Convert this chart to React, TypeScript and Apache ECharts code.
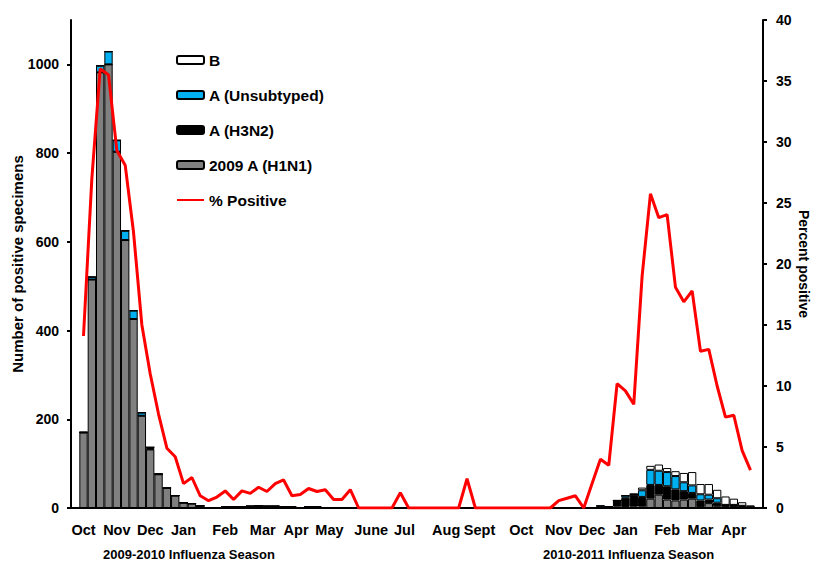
import React, { useEffect, useRef } from 'react';
import * as echarts from 'echarts';

// Weekly categories: index 0 and the last are empty padding weeks
const weekIds: string[] = Array.from({ length: 83 }, (_, i) => `W${i}`);

// 2009 A (H1N1)
const h1n1 = [
  0, 170, 515, 982, 1000, 803, 604, 426, 208, 132,
  76, 45, 28, 12, 10, 5, 1, 1, 3, 3,
  3, 4, 5, 4, 4, 3, 3, 1, 3, 3,
  1, 0, 0, 0, 0, 0, 0, 0, 0, 0,
  0, 0, 0, 0, 0, 0, 0, 0, 0, 0,
  0, 0, 0, 0, 0, 0, 0, 0, 0, 0,
  0, 0, 0, 0, 0, 3, 2, 3, 3, 21,
  30, 19, 17, 19, 21, 2, 11, 4, 2, 2,
  1, 1, 0,
];

// A (H3N2)
const h3n2 = [
  0, 0, 0, 0, 0, 0, 0, 0, 0, 1,
  0, 0, 0, 0, 0, 0, 0, 0, 0, 0,
  0, 0, 0, 0, 0, 0, 0, 0, 0, 0,
  0, 0, 0, 0, 0, 0, 0, 0, 0, 0,
  0, 0, 0, 0, 0, 0, 0, 0, 0, 0,
  0, 0, 0, 0, 0, 0, 0, 0, 0, 0,
  0, 0, 1, 1, 3, 14, 21, 27, 22, 31,
  22, 30, 25, 19, 13, 15, 8, 8, 5, 5,
  4, 1, 0,
];

// A (Unsubtyped)
const unsubtyped = [
  0, 1, 6, 15, 29, 26, 21, 19, 7, 4,
  1, 0, 0, 0, 0, 0, 0, 0, 0, 0,
  0, 0, 0, 0, 0, 0, 0, 0, 0, 0,
  0, 0, 0, 0, 0, 0, 0, 0, 0, 0,
  0, 0, 0, 0, 0, 0, 0, 0, 0, 0,
  0, 0, 0, 0, 0, 0, 0, 0, 0, 0,
  0, 0, 0, 4, 0, 0, 5, 1, 15, 34,
  32, 32, 30, 20, 17, 14, 11, 10, 0, 0,
  0, 0, 0,
];

// B
const fluB = [
  0, 0, 0, 0, 0, 0, 0, 0, 0, 0,
  0, 0, 0, 0, 0, 0, 0, 0, 0, 0,
  0, 0, 0, 0, 0, 0, 0, 0, 0, 0,
  0, 0, 0, 0, 0, 0, 0, 0, 0, 0,
  0, 0, 0, 0, 0, 0, 0, 0, 0, 0,
  0, 0, 0, 0, 0, 0, 0, 0, 0, 0,
  0, 0, 0, 0, 0, 0, 0, 1, 6, 9,
  14, 9, 11, 21, 30, 23, 24, 19, 19, 14,
  8, 4, 0,
];

// % Positive
const pctPositive: (number | null)[] = [
  null, 14.1, 27.0, 36.0, 35.5, 29.3, 28.1, 22.6, 15.0, 11.0,
  7.7, 4.9, 4.2, 2.0, 2.5, 1.0, 0.6, 0.9, 1.4, 0.7,
  1.4, 1.2, 1.7, 1.35, 2.0, 2.3, 1.0, 1.1, 1.6, 1.35,
  1.5, 0.7, 0.7, 1.5, 0, 0, 0, 0, 0, 1.25,
  0, 0, 0, 0, 0, 0, 0, 2.4, 0, 0,
  0, 0, 0, 0, 0, 0, 0, 0, 0.6, 0.8,
  1.0, 0, 2.0, 4.0, 3.5, 10.2, 9.6, 8.5, 19.0, 25.75,
  23.8, 24.05, 18.1, 16.9, 17.8, 12.85, 13.0, 10.0, 7.45, 7.6,
  4.7, 3.1, null,
];

// Month tick labels and the half-week slot where each is centred
const monthNames = ['Oct', 'Nov', 'Dec', 'Jan', 'Feb', 'Mar', 'Apr', 'May', 'June', 'Jul', 'Aug', 'Sept',
  'Oct', 'Nov', 'Dec', 'Jan', 'Feb', 'Mar', 'Apr'];
const monthSlots = [3, 11, 19, 27, 37, 46, 54, 62, 72, 80, 90, 98, 108, 117, 125, 133, 143, 151, 159];

const leftTicks = [0, 200, 400, 600, 800, 1000];
const seasonLabels = ['2009-2010 Influenza Season', '2010-2011 Influenza Season'];

const FONT = 'Liberation Sans, Arial, sans-serif';

export default function App() {
  const ref = useRef<HTMLDivElement>(null);
  useEffect(() => {
    document.body.style.margin = '0';
    if (!ref.current) return;
    const chart = echarts.init(ref.current, null, { renderer: 'svg' });
    const slotLabels: string[] = Array.from({ length: weekIds.length * 2 + 1 }, () => '');
    monthSlots.forEach((s, i) => { slotLabels[s] = monthNames[i]; });

    const barCommon = {
      type: 'bar' as const,
      stack: 'flu',
      barCategoryGap: '0%',
      xAxisIndex: 0,
      yAxisIndex: 0,
    };
    const border = { borderColor: '#000', borderWidth: 1 };

    chart.setOption({
      animation: false,
      textStyle: { fontFamily: FONT },
      grid: { left: 71, right: 52, top: 20, bottom: 54, containLabel: false, outerBoundsMode: 'none' },
      legend: {
        orient: 'vertical',
        left: 176,
        top: 52,
        padding: 0,
        itemWidth: 27,
        itemHeight: 8,
        itemGap: 19,
        textStyle: { fontSize: 15.5, fontWeight: 'bold', color: '#000', fontFamily: FONT, lineHeight: 16 },
        data: [
          'B',
          'A (Unsubtyped)',
          'A (H3N2)',
          '2009 A (H1N1)',
          { name: '% Positive', itemStyle: { opacity: 0 } },
        ],
      },
      xAxis: [
        {
          type: 'category',
          data: weekIds,
          boundaryGap: true,
          axisLine: { lineStyle: { color: '#000', width: 2 } },
          axisTick: { show: false },
          axisLabel: { show: false },
        },
        {
          type: 'category',
          data: slotLabels,
          boundaryGap: false,
          position: 'bottom',
          axisLine: { show: false },
          axisTick: { show: false },
          axisLabel: {
            interval: 0,
            margin: 14,
            fontSize: 14.5,
            fontWeight: 'bold',
            color: '#000',
            fontFamily: FONT,
          },
        },
      ],
      yAxis: [
        {
          type: 'value',
          min: 0,
          max: 1100,
          interval: 200,
          name: 'Number of positive specimens',
          nameLocation: 'middle',
          nameGap: 46,
          nameMoveOverlap: false,
          nameTextStyle: { fontSize: 15, fontWeight: 'bold', color: '#000', fontFamily: FONT },
          axisLine: { show: true, lineStyle: { color: '#000', width: 2 } },
          axisTick: { show: true, length: 4, lineStyle: { color: '#000', width: 2 }, customValues: leftTicks },
          axisLabel: {
            customValues: leftTicks,
            formatter: (v: number) => String(v),
            margin: 12,
            fontSize: 14,
            fontWeight: 'bold',
            color: '#000',
            fontFamily: FONT,
          },
          splitLine: { show: false },
        },
        {
          type: 'value',
          min: 0,
          max: 40,
          interval: 5,
          position: 'right',
          name: 'Percent positive',
          nameLocation: 'middle',
          nameRotate: -90,
          nameGap: 34,
          nameMoveOverlap: false,
          nameTextStyle: { fontSize: 14, fontWeight: 'bold', color: '#000', fontFamily: FONT },
          axisLine: { show: true, lineStyle: { color: '#000', width: 2 } },
          axisTick: { show: true, length: 4, lineStyle: { color: '#000', width: 2 } },
          axisLabel: { margin: 13, fontSize: 14, fontWeight: 'bold', color: '#000', fontFamily: FONT },
          splitLine: { show: false },
        },
      ],
      graphic: [
        {
          type: 'text',
          left: 103,
          top: 548,
          style: { text: seasonLabels[0], font: `bold 13px ${FONT}`, fill: '#000' },
        },
        {
          type: 'text',
          left: 543,
          top: 548,
          style: { text: seasonLabels[1], font: `bold 13px ${FONT}`, fill: '#000' },
        },
      ],
      series: [
        { ...barCommon, name: '2009 A (H1N1)', data: h1n1, itemStyle: { color: '#808080', ...border } },
        { ...barCommon, name: 'A (H3N2)', data: h3n2, itemStyle: { color: '#000000', ...border } },
        { ...barCommon, name: 'A (Unsubtyped)', data: unsubtyped, itemStyle: { color: '#00B0F0', ...border } },
        { ...barCommon, name: 'B', data: fluB, itemStyle: { color: '#FFFFFF', ...border } },
        {
          type: 'line',
          name: '% Positive',
          xAxisIndex: 0,
          yAxisIndex: 1,
          data: pctPositive,
          symbol: 'none',
          showSymbol: false,
          connectNulls: false,
          lineStyle: { color: '#FF0000', width: 3 },
          itemStyle: { color: '#FF0000' },
          z: 5,
        },
      ],
    });
    return () => chart.dispose();
  }, []);
  return <div ref={ref} style={{ width: 815, height: 562 }} />;
}
